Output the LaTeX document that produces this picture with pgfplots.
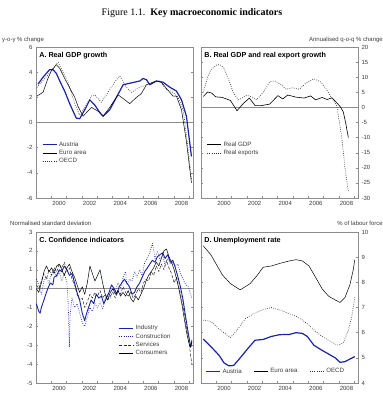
\documentclass[border=0pt]{standalone}
\usepackage{pgfplots}
\pgfplotsset{compat=1.18}
\usepackage{fontspec}
\setmainfont{Liberation Sans}
\newfontfamily\titlefont{Liberation Serif}
\definecolor{aublue}{RGB}{25,35,165}
\definecolor{axgrey}{RGB}{140,140,140}
\definecolor{txt}{RGB}{60,60,60}

\pgfplotsset{
 panel/.style={
  scale only axis, width=157pt, height=151pt,
  xmin=1999, xmax=2009.25,
  xtick={2000,2001,...,2009},
  xticklabels={2000,,2002,,2004,,2006,,2008,},
  x tick label style={xshift=7.65pt, font=\fontsize{6}{7}\selectfont, text=txt},
  y tick label style={font=\fontsize{6}{7}\selectfont, text=txt},
  /pgf/number format/assume math mode=true,
  axis line style={axgrey, line width=0.4pt},
  tick style={axgrey, line width=0.4pt},
  major tick length=2pt,
  tick align=inside,
  xtick pos=bottom,
  ytick pos=both,
  legend style={draw=none, fill=none, font=\fontsize{6.2}{7}\selectfont, text=txt, row sep=-1.5pt, inner sep=1pt},
  legend cell align=left,
  legend image code/.code={\draw[##1] (0pt,0pt) -- (14pt,0pt);},
  every axis plot/.append style={line join=round},
 },
}
\tikzset{
 dots/.style={dash pattern=on 0.7pt off 1.5pt, line width=0.7pt},
 dashes/.style={dash pattern=on 3pt off 1.6pt, line width=0.5pt},
 ttl/.style={anchor=north west, font=\bfseries\fontsize{7.2}{8}\selectfont, inner sep=0pt},
 unit/.style={font=\fontsize{6}{7}\selectfont, text=txt, inner sep=0pt},
}

\begin{document}
\begin{tikzpicture}[x=1pt,y=1pt]
\useasboundingbox (0,0) rectangle (383,-400);
\node[font=\titlefont\fontsize{10}{12}\selectfont, inner sep=0pt] at (192,-13) {Figure 1.1.\ \ \textbf{Key macroeconomic indicators}};
\node[unit, anchor=west] at (2,-40) {y-o-y \% change};
\node[unit, anchor=east] at (383,-40) {Annualised q-o-q \% change};
\node[unit, anchor=west] at (10,-223) {Normalised standard deviation};
\node[unit, anchor=east] at (383,-223) {\% of labour force};

% ---------------- Panel A
\begin{axis}[panel, at={(36pt,-47pt)}, anchor=north west,
  ymin=-6, ymax=6, ytick={-6,-4,...,6},
  legend style={at={(0.03,0.395)}, anchor=north west}]
\addplot[axgrey, line width=0.5pt, forget plot] coordinates {(1999,0) (2009.25,0)};
\addplot[aublue, line width=1.2pt] coordinates {
(1999.13,3.05) (1999.46,3.6) (1999.89,4.2) (2000.11,4.2) (2000.33,3.9) (2000.55,3.3)
(2000.87,2.5) (2001.20,1.5) (2001.42,0.9) (2001.63,0.35) (2001.85,0.3) (2002.18,1.0)
(2002.51,1.8) (2002.83,1.4) (2003.16,0.8) (2003.38,0.5) (2003.81,1.0) (2004.25,2.0)
(2004.69,3.0) (2005.23,3.15) (2005.78,3.3) (2005.99,3.5) (2006.21,3.4) (2006.43,3.0)
(2006.86,3.3) (2007.30,3.2) (2007.74,2.8) (2008.17,2.5) (2008.50,1.8) (2008.82,0.5) (2009.15,-2.7)};
\addlegendentry{Austria}
\addplot[black, line width=0.5pt] coordinates {
(1999.06,2.1) (1999.46,2.4) (1999.78,3.5) (2000.00,4.1) (2000.33,4.6) (2000.55,4.3)
(2000.87,3.5) (2001.09,3.0) (2001.53,2.0) (2001.74,1.3) (2002.07,0.5) (2002.62,1.2)
(2003.05,0.9) (2003.38,0.5) (2003.81,1.2) (2004.36,2.2) (2004.69,1.9) (2005.12,1.5)
(2005.56,2.0) (2005.88,2.3) (2006.21,3.0) (2006.86,3.3) (2007.19,3.2) (2007.52,2.7)
(2007.95,2.1) (2008.17,2.1) (2008.50,1.0) (2008.82,-1.5) (2009.15,-4.8)};
\addlegendentry{Euro area}
\addplot[black!80, dots] coordinates {
(1999.06,2.8) (1999.57,3.5) (2000.00,4.1) (2000.44,4.8) (2000.76,4.0) (2001.09,3.2)
(2001.53,1.5) (2001.85,0.6) (2002.18,1.2) (2002.62,2.1) (2002.83,2.2) (2003.27,1.6)
(2003.81,2.6) (2004.25,3.4) (2004.47,3.7) (2004.90,2.8) (2005.23,2.4) (2005.78,2.8)
(2006.21,3.0) (2006.65,3.2) (2007.08,3.3) (2007.52,2.6) (2007.84,2.5) (2008.28,2.0)
(2008.61,1.0) (2008.82,-1.0) (2009.15,-4.5)};
\addlegendentry{OECD}
\node[ttl] at (rel axis cs:0.02,0.965) {A. Real GDP growth};
\end{axis}

% ---------------- Panel B
\begin{axis}[panel, at={(201pt,-47pt)}, anchor=north west,
  ymin=-30, ymax=20, ytick={-30,-25,...,20}, yticklabel pos=right,
  legend style={at={(0.03,0.395)}, anchor=north west}]
\addplot[axgrey, line width=0.5pt, forget plot] coordinates {(1999,0) (2009.25,0)};
\addplot[black, line width=0.6pt] coordinates {
(1999.15,3.6) (1999.43,5.1) (1999.68,4.8) (1999.96,3.5) (2000.39,3.3) (2000.92,2.3)
(2001.35,-1.1) (2001.78,1.4) (2002.16,3.1) (2002.53,0.6) (2002.95,0.6) (2003.49,1.1)
(2004.02,3.9) (2004.34,2.8) (2004.66,4.1) (2005.20,3.4) (2005.73,3.1) (2006.16,3.8)
(2006.48,2.5) (2006.91,3.3) (2007.23,2.6) (2007.55,3.2) (2007.87,1.5) (2008.08,0.3)
(2008.29,-1.5) (2008.44,-5) (2008.62,-10)};
\addlegendentry{Real GDP}
\addplot[black!80, dots] coordinates {
(1999.15,5) (1999.43,10) (1999.64,12.5) (2000.07,14.2) (2000.28,14.0) (2000.50,13)
(2000.82,9) (2001.14,4.5) (2001.46,2.5) (2001.99,4.0) (2002.31,3.5) (2002.63,2.5)
(2003.06,5) (2003.49,8.5) (2003.81,8.8) (2004.24,7.5) (2004.56,6) (2004.98,6.5)
(2005.41,6) (2005.84,8) (2006.37,9.5) (2006.80,8.5) (2007.12,6.5) (2007.55,3)
(2007.87,0.5) (2008.19,-10) (2008.40,-20) (2008.62,-28)};
\addlegendentry{Real exports}
\node[ttl] at (rel axis cs:0.02,0.965) {B. Real GDP and real export growth};
\end{axis}

% ---------------- Panel C
\begin{axis}[panel, at={(36pt,-232pt)}, anchor=north west,
  ymin=-5, ymax=3, ytick={-5,-4,...,3},
  legend style={at={(0.52,0.405)}, anchor=north west}]
\addplot[axgrey, line width=0.5pt, forget plot] coordinates {(1999,0) (2009.25,0)};
\addplot[aublue, line width=0.9pt] coordinates {
(1999.02,-0.8) (1999.18,-1.2) (1999.27,-1.3) (1999.35,-1.0) (1999.52,-0.6) (1999.68,-0.2)
(1999.77,0.0) (1999.93,0.3) (2000.10,0.2) (2000.18,0.6) (2000.35,0.7) (2000.52,1.0)
(2000.68,0.9) (2000.85,1.2) (2001.02,1.0) (2001.18,0.7) (2001.35,0.8) (2001.52,0.3)
(2001.68,-0.2) (2001.85,-0.6) (2002.02,-1.3) (2002.18,-1.7) (2002.27,-1.4) (2002.43,-1.0)
(2002.60,-0.6) (2002.77,-0.8) (2002.93,-0.3) (2003.10,-0.5) (2003.27,-0.4) (2003.43,-0.8)
(2003.60,-0.5) (2003.77,-0.2) (2003.93,0.2) (2004.10,0.0) (2004.27,-0.3) (2004.43,0.1)
(2004.60,0.3) (2004.77,0.5) (2004.93,0.3) (2005.10,0.1) (2005.27,-0.3) (2005.43,-0.2)
(2005.60,0.1) (2005.77,0.3) (2005.93,0.6) (2006.10,0.9) (2006.27,1.1) (2006.43,1.3)
(2006.60,1.5) (2006.77,1.4) (2006.93,1.7) (2007.10,1.8) (2007.27,1.9) (2007.43,1.6)
(2007.60,1.8) (2007.77,1.4) (2007.93,1.5) (2008.10,1.1) (2008.27,0.6) (2008.43,0.1)
(2008.60,-0.6) (2008.77,-1.5) (2008.93,-2.3) (2009.10,-3.1) (2009.18,-2.8)};
\addlegendentry{Industry}
\addplot[aublue, dots] coordinates {
(1999.02,0.5) (1999.18,0.2) (1999.35,-0.3) (1999.52,0.4) (1999.68,0.6) (1999.85,0.3)
(2000.02,0.8) (2000.18,1.0) (2000.35,0.6) (2000.52,0.9) (2000.68,0.4) (2000.85,0.8)
(2001.02,0.3) (2001.10,-0.8) (2001.18,-3.1) (2001.22,-1.5) (2001.35,-0.5) (2001.52,-1.0)
(2001.68,-0.8) (2001.85,-1.3) (2002.02,-1.8) (2002.18,-2.0) (2002.35,-1.5) (2002.52,-1.0)
(2002.68,-1.2) (2002.85,-0.8) (2003.02,-1.0) (2003.18,-0.7) (2003.35,-1.1) (2003.52,-0.5)
(2003.68,-0.3) (2003.85,-0.5) (2004.02,0.0) (2004.18,-0.1) (2004.35,0.3) (2004.52,0.0)
(2004.68,0.6) (2004.85,0.9) (2004.93,0.2) (2005.10,0.5) (2005.27,0.4) (2005.43,0.9)
(2005.60,0.6) (2005.77,1.0) (2005.93,0.7) (2006.10,1.4) (2006.27,1.6) (2006.43,1.9)
(2006.60,2.4) (2006.77,1.6) (2006.93,2.0) (2007.10,1.5) (2007.27,1.8) (2007.43,1.2)
(2007.60,1.6) (2007.77,1.3) (2007.93,1.4) (2008.10,1.2) (2008.27,1.3) (2008.43,0.8)
(2008.60,0.5) (2008.77,0.2) (2008.93,0.1) (2009.10,-0.3) (2009.18,-0.5)};
\addlegendentry{Construction}
\addplot[black!85, dashes] coordinates {
(1999.02,0.2) (1999.18,0.0) (1999.35,0.4) (1999.52,0.8) (1999.68,0.5) (1999.85,1.0)
(2000.02,0.7) (2000.18,1.1) (2000.35,0.9) (2000.52,1.3) (2000.68,1.1) (2000.85,1.4)
(2001.02,0.9) (2001.18,1.1) (2001.35,0.5) (2001.52,0.2) (2001.68,-0.3) (2001.85,-0.6)
(2002.02,-0.5) (2002.18,-1.0) (2002.35,-0.7) (2002.52,-0.3) (2002.68,-0.5) (2002.85,-0.2)
(2003.02,-0.4) (2003.18,-0.1) (2003.35,-0.5) (2003.52,-0.3) (2003.68,-0.6) (2003.85,-0.4)
(2004.02,-0.2) (2004.18,-0.5) (2004.35,-0.1) (2004.52,-0.3) (2004.68,0.1) (2004.85,-0.2)
(2005.02,-0.4) (2005.18,-0.2) (2005.35,-0.5) (2005.52,-0.3) (2005.68,0.0) (2005.85,-0.2)
(2006.02,0.3) (2006.18,0.5) (2006.35,0.4) (2006.52,0.9) (2006.68,0.7) (2006.85,1.2)
(2007.02,0.9) (2007.18,1.3) (2007.35,1.0) (2007.52,1.5) (2007.68,1.1) (2007.85,0.8)
(2008.02,0.3) (2008.18,0.6) (2008.35,0.0) (2008.52,-0.6) (2008.68,-1.3) (2008.85,-2.2)
(2009.02,-3.0) (2009.10,-3.6) (2009.18,-4.0)};
\addlegendentry{Services}
\addplot[black, line width=0.5pt] coordinates {
(1999.02,0.0) (1999.18,-0.2) (1999.35,0.3) (1999.52,0.9) (1999.68,1.2) (1999.85,0.9)
(2000.02,1.1) (2000.18,0.8) (2000.35,1.2) (2000.52,1.3) (2000.68,1.0) (2000.85,0.7)
(2001.02,1.1) (2001.18,1.3) (2001.35,0.9) (2001.52,0.6) (2001.68,0.2) (2001.85,-0.2)
(2002.02,0.1) (2002.18,-0.3) (2002.35,0.3) (2002.52,1.2) (2002.68,0.8) (2002.85,0.4)
(2003.02,0.7) (2003.18,1.0) (2003.35,0.3) (2003.52,-0.3) (2003.68,-0.6) (2003.85,-0.2)
(2004.02,0.0) (2004.18,-0.3) (2004.35,-0.1) (2004.52,-0.4) (2004.68,-0.2) (2004.85,-0.4)
(2005.02,-0.1) (2005.18,-0.5) (2005.35,-0.7) (2005.52,-0.4) (2005.68,-0.6) (2005.85,-0.3)
(2006.02,0.0) (2006.18,0.4) (2006.35,0.7) (2006.52,0.9) (2006.68,1.1) (2006.85,1.4)
(2007.02,1.2) (2007.18,1.6) (2007.35,2.0) (2007.52,2.1) (2007.68,1.7) (2007.85,1.4)
(2008.02,1.0) (2008.18,0.5) (2008.35,-0.1) (2008.52,-0.8) (2008.68,-1.6) (2008.85,-2.4)
(2009.02,-3.0) (2009.10,-3.1) (2009.18,-2.7)};
\addlegendentry{Consumers}
\node[ttl] at (rel axis cs:0.02,0.965) {C. Confidence indicators};
\end{axis}

% ---------------- Panel D
\begin{axis}[panel, at={(201pt,-232pt)}, anchor=north west,
  ymin=4, ymax=10, ytick={4,5,...,10}, yticklabel pos=right,
  legend columns=3,
  legend style={at={(0.02,0.035)}, anchor=south west, /tikz/every even column/.append style={column sep=10pt}}]
\addplot[aublue, line width=1.2pt] coordinates {
(1999.15,5.75) (1999.64,5.45) (2000.18,5.1) (2000.50,4.8) (2000.82,4.68) (2001.14,4.7)
(2001.56,5.0) (2002.10,5.4) (2002.53,5.7) (2003.06,5.73) (2003.59,5.85) (2004.13,5.92)
(2004.77,5.93) (2005.20,6.0) (2005.62,5.97) (2005.94,5.85) (2006.37,5.5) (2006.90,5.3)
(2007.33,5.15) (2007.76,5.0) (2008.08,4.82) (2008.40,4.85) (2008.72,4.95) (2009.04,5.05)};
\addlegendentry{Austria}
\addplot[black, line width=0.5pt] coordinates {
(1999.15,9.45) (1999.64,9.1) (2000.39,8.3) (2000.92,7.95) (2001.56,7.7) (2002.21,7.95)
(2002.63,8.25) (2003.06,8.6) (2003.59,8.65) (2004.13,8.75) (2004.77,8.85) (2005.20,8.9)
(2005.62,8.85) (2006.05,8.65) (2006.48,8.2) (2006.90,7.75) (2007.33,7.45) (2007.76,7.3)
(2008.08,7.2) (2008.40,7.4) (2008.72,7.9) (2008.94,8.5) (2009.04,8.9)};
\addlegendentry{Euro area}
\addplot[black!80, dots] coordinates {
(1999.15,6.5) (1999.64,6.45) (2000.28,6.1) (2000.92,5.8) (2001.35,6.1) (2001.88,6.55)
(2002.42,6.75) (2002.95,6.9) (2003.59,7.0) (2004.24,6.88) (2004.77,6.75) (2005.20,6.65)
(2005.62,6.5) (2006.05,6.3) (2006.48,6.05) (2006.90,5.85) (2007.33,5.7) (2007.76,5.55)
(2007.97,5.5) (2008.29,5.6) (2008.62,6.1) (2008.83,6.6) (2009.04,7.4)};
\addlegendentry{OECD}
\node[ttl] at (rel axis cs:0.02,0.965) {D. Unemployment rate};
\end{axis}
\end{tikzpicture}
\end{document}
